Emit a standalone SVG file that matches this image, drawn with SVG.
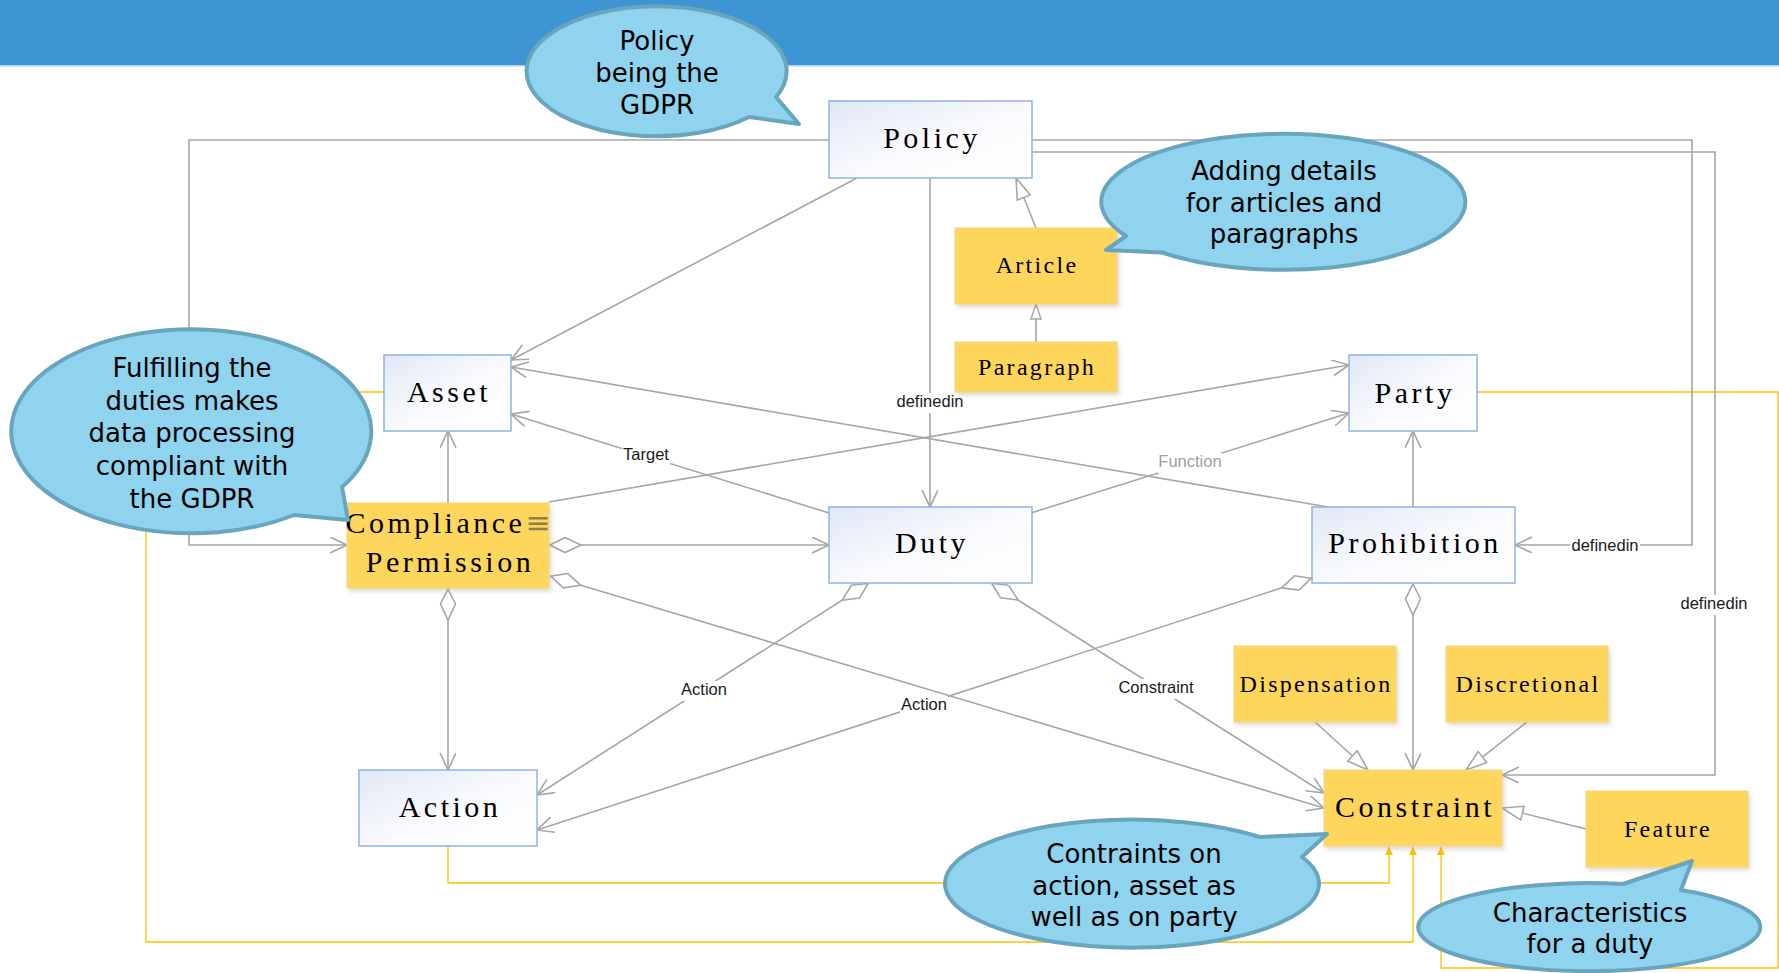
<svg xmlns="http://www.w3.org/2000/svg" width="1779" height="973" viewBox="0 0 1779 973">
  <defs>
    <style>
      .conn { fill: none; stroke: #a6a6a6; stroke-width: 1.6; }
      .yl { fill: none; stroke: #ffc000; stroke-width: 1.3; }
      .box { fill: url(#boxGrad); stroke: #8eb4e3; stroke-width: 1.5; }
      .ybox { fill: #ffd65c; stroke: #f2d38c; stroke-width: 1; filter: url(#shadow); }
      .big { font-family: "Liberation Serif", "Times New Roman", serif; font-size: 30px; letter-spacing: 3.5px; text-anchor: middle; fill: #000; }
      .small { font-size: 24px; letter-spacing: 2.3px; }
      .sym { font-family: "DejaVu Sans", sans-serif; font-size: 30px; letter-spacing: 0; fill: #8d7f45; }
      .lbl { font-family: "Liberation Sans", Arial, sans-serif; font-size: 16.5px; text-anchor: middle; fill: #1a1a1a; }
      .lblbg { fill: #ffffff; }
      .bubble { fill: #8fd3ee; stroke: #6aa5be; stroke-width: 4; stroke-linejoin: round; }
      .btxt { font-family: "DejaVu Sans", Verdana, sans-serif; font-size: 26px; text-anchor: middle; fill: #000; }
    </style>
    <linearGradient id="boxGrad" x1="0" y1="0" x2="1" y2="1">
      <stop offset="0" stop-color="#e0e8f5"/>
      <stop offset="0.55" stop-color="#fafbfe"/>
      <stop offset="1" stop-color="#ffffff"/>
    </linearGradient>
    <filter id="shadow" x="-10%" y="-10%" width="125%" height="135%">
      <feDropShadow dx="2" dy="3" stdDeviation="2" flood-color="#a08c60" flood-opacity="0.3"/>
    </filter>
    <!-- open navigable arrow -->
    <marker id="arrow" markerUnits="userSpaceOnUse" markerWidth="20" markerHeight="20" refX="17" refY="8" orient="auto">
      <path d="M0,0 L17,8 L0,16" fill="none" stroke="#a6a6a6" stroke-width="1.6"/>
    </marker>
    <!-- aggregation diamond at the source end -->
    <marker id="diamond" markerUnits="userSpaceOnUse" markerWidth="36" markerHeight="20" refX="0" refY="8" orient="auto">
      <path d="M1,8 L16,0.5 L32,8 L16,15.5 Z" fill="#ffffff" stroke="#a6a6a6" stroke-width="1.6"/>
    </marker>
    <!-- generalization triangle -->
    <marker id="hollow" markerUnits="userSpaceOnUse" markerWidth="26" markerHeight="20" refX="22" refY="8" orient="auto">
      <path d="M1,1 L22,8 L1,15 Z" fill="#ffffff" stroke="#a6a6a6" stroke-width="1.6"/>
    </marker>
    <marker id="hollowSmall" markerUnits="userSpaceOnUse" markerWidth="20" markerHeight="14" refX="16" refY="6" orient="auto">
      <path d="M1,1 L16,6 L1,11 Z" fill="#ffffff" stroke="#a6a6a6" stroke-width="1.4"/>
    </marker>
    <!-- small filled arrow for the trace links -->
    <marker id="yarrow" markerUnits="userSpaceOnUse" markerWidth="10" markerHeight="10" refX="8" refY="4" orient="auto">
      <path d="M0,0 L8,4 L0,8 Z" fill="#ffc000"/>
    </marker>
  </defs>

  <rect x="0" y="0" width="1779" height="973" fill="#ffffff"/>
  <!-- title band -->
  <rect x="0" y="0" width="1779" height="65" fill="#3d95d3"/>
  <rect x="0" y="65" width="1779" height="1.5" fill="#a9d2ef"/>

  <g id="connectors">
    <!-- trace links (yellow) -->
    <path class="yl" d="M384,392 H146 V942 H1413 V847" marker-end="url(#yarrow)"/>
    <path class="yl" d="M448,846 V883 H1389 V847" marker-end="url(#yarrow)"/>
    <path class="yl" d="M1477,392 H1778 V968 H1441 V847" marker-end="url(#yarrow)"/>

    <!-- associations -->
    <path class="conn" d="M829,140 H189 V545 H347" marker-end="url(#arrow)"/>
    <path class="conn" d="M857,178 L511,360" marker-end="url(#arrow)"/>
    <path class="conn" d="M930,178 V507" marker-end="url(#arrow)"/>
    <path class="conn" d="M1032,140 H1692 V545 H1515" marker-end="url(#arrow)"/>
    <path class="conn" d="M1032,152 H1715 V775 H1502" marker-end="url(#arrow)"/>
    <path class="conn" d="M448,503 V431" marker-end="url(#arrow)"/>
    <path class="conn" d="M549,502 L1349,365" marker-end="url(#arrow)"/>
    <path class="conn" d="M829,513 L511,414" marker-end="url(#arrow)"/>
    <path class="conn" d="M1031,513 L1349,413" marker-end="url(#arrow)"/>
    <path class="conn" d="M1328,507 L511,367" marker-end="url(#arrow)"/>
    <path class="conn" d="M1413,507 V431" marker-end="url(#arrow)"/>

    <!-- aggregations -->
    <path class="conn" d="M549,545 H829" marker-start="url(#diamond)" marker-end="url(#arrow)"/>
    <path class="conn" d="M448,588 V770" marker-start="url(#diamond)" marker-end="url(#arrow)"/>
    <path class="conn" d="M550,576 L1324,808" marker-start="url(#diamond)" marker-end="url(#arrow)"/>
    <path class="conn" d="M869,583 L537,795" marker-start="url(#diamond)" marker-end="url(#arrow)"/>
    <path class="conn" d="M991,583 L1324,793" marker-start="url(#diamond)" marker-end="url(#arrow)"/>
    <path class="conn" d="M1312,578 L537,830" marker-start="url(#diamond)" marker-end="url(#arrow)"/>
    <path class="conn" d="M1413,583 V770" marker-start="url(#diamond)" marker-end="url(#arrow)"/>

    <!-- generalizations -->
    <path class="conn" d="M1036,228 L1016,178" marker-end="url(#hollow)"/>
    <path class="conn" d="M1036,342 V304" marker-end="url(#hollowSmall)"/>
    <path class="conn" d="M1315,722 L1368,770" marker-end="url(#hollow)"/>
    <path class="conn" d="M1527,722 L1466,770" marker-end="url(#hollow)"/>
    <path class="conn" d="M1586,829 L1502,808" marker-end="url(#hollow)"/>

    <!-- connector labels -->
    <rect class="lblbg" x="895" y="393" width="70" height="20"/>
    <text class="lbl" x="930" y="407">definedin</text>
    <rect class="lblbg" x="622" y="446" width="48" height="20"/>
    <text class="lbl" x="646" y="460">Target</text>
    <rect class="lblbg" x="1158" y="453" width="64" height="20"/>
    <text class="lbl" x="1190" y="467" style="fill:#a0a0a0">Function</text>
    <rect class="lblbg" x="1570" y="537" width="70" height="20"/>
    <text class="lbl" x="1605" y="551">definedin</text>
    <rect class="lblbg" x="1678" y="595" width="72" height="20"/>
    <text class="lbl" x="1714" y="609">definedin</text>
    <rect class="lblbg" x="680" y="681" width="48" height="20"/>
    <text class="lbl" x="704" y="695">Action</text>
    <rect class="lblbg" x="900" y="696" width="48" height="20"/>
    <text class="lbl" x="924" y="710">Action</text>
    <rect class="lblbg" x="1118" y="679" width="77" height="20"/>
    <text class="lbl" x="1156" y="693">Constraint</text>
  </g>

  <g id="policy">
    <rect class="box" x="829" y="101" width="203" height="77"/>
    <text class="big" x="932" y="148">Policy</text>
  </g>
  <g id="article">
    <rect class="ybox" x="955" y="228" width="162" height="76"/>
    <text class="big small" x="1037" y="273">Article</text>
  </g>
  <g id="paragraph">
    <rect class="ybox" x="955" y="342" width="162" height="50"/>
    <text class="big small" x="1037" y="375">Paragraph</text>
  </g>
  <g id="asset">
    <rect class="box" x="384" y="355" width="127" height="76"/>
    <text class="big" x="449" y="402">Asset</text>
  </g>
  <g id="party">
    <rect class="box" x="1349" y="355" width="128" height="76"/>
    <text class="big" x="1415" y="403">Party</text>
  </g>
  <g id="compliance-permission">
    <rect class="ybox" x="347" y="503" width="202" height="85"/>
    <text class="big" x="448" y="533">Compliance<tspan class="sym">≡</tspan></text>
    <text class="big" x="450" y="572">Permission</text>
  </g>
  <g id="duty">
    <rect class="box" x="829" y="507" width="203" height="76"/>
    <text class="big" x="932" y="553">Duty</text>
  </g>
  <g id="prohibition">
    <rect class="box" x="1312" y="507" width="203" height="76"/>
    <text class="big" x="1415" y="553">Prohibition</text>
  </g>
  <g id="dispensation">
    <rect class="ybox" x="1234" y="646" width="162" height="76"/>
    <text class="big small" x="1316" y="692">Dispensation</text>
  </g>
  <g id="discretional">
    <rect class="ybox" x="1446" y="646" width="162" height="76"/>
    <text class="big small" x="1528" y="692">Discretional</text>
  </g>
  <g id="action">
    <rect class="box" x="359" y="770" width="178" height="76"/>
    <text class="big" x="450" y="817">Action</text>
  </g>
  <g id="constraint">
    <rect class="ybox" x="1324" y="770" width="178" height="76"/>
    <text class="big" x="1415" y="817">Constraint</text>
  </g>
  <g id="feature">
    <rect class="ybox" x="1586" y="791" width="162" height="76"/>
    <text class="big small" x="1668" y="837">Feature</text>
  </g>

  <!-- speech-bubble notes -->
  <g id="note-policy">
    <path class="bubble" d="M776,97 A130,65 0 1 0 749,117 L799,124 Z"/>
    <text class="btxt" x="657" y="50">Policy</text>
    <text class="btxt" x="657" y="82">being the</text>
    <text class="btxt" x="657" y="114">GDPR</text>
  </g>
  <g id="note-article">
    <path class="bubble" d="M1162,252.5 A182,68 0 1 0 1126,236 L1106,250 Z"/>
    <text class="btxt" x="1284" y="180">Adding details</text>
    <text class="btxt" x="1284" y="212">for articles and</text>
    <text class="btxt" x="1284" y="243">paragraphs</text>
  </g>
  <g id="note-compliance">
    <path class="bubble" d="M342,487 A180,102 0 1 0 294,515 L348,520 Z"/>
    <text class="btxt" x="192" y="377">Fulfilling the</text>
    <text class="btxt" x="192" y="410">duties makes</text>
    <text class="btxt" x="192" y="442">data processing</text>
    <text class="btxt" x="192" y="475">compliant with</text>
    <text class="btxt" x="192" y="508">the GDPR</text>
  </g>
  <g id="note-constraint">
    <path class="bubble" d="M1260,837 L1327,834 L1302,857 A187,64 0 1 1 1260,837 Z"/>
    <text class="btxt" x="1134" y="863">Contraints on</text>
    <text class="btxt" x="1134" y="895">action, asset as</text>
    <text class="btxt" x="1134" y="926">well as on party</text>
  </g>
  <g id="note-feature">
    <path class="bubble" d="M1623,884 L1692,861 L1681,890 A171,44 0 1 1 1623,884 Z"/>
    <text class="btxt" x="1590" y="922">Characteristics</text>
    <text class="btxt" x="1590" y="953">for a duty</text>
  </g>
</svg>
